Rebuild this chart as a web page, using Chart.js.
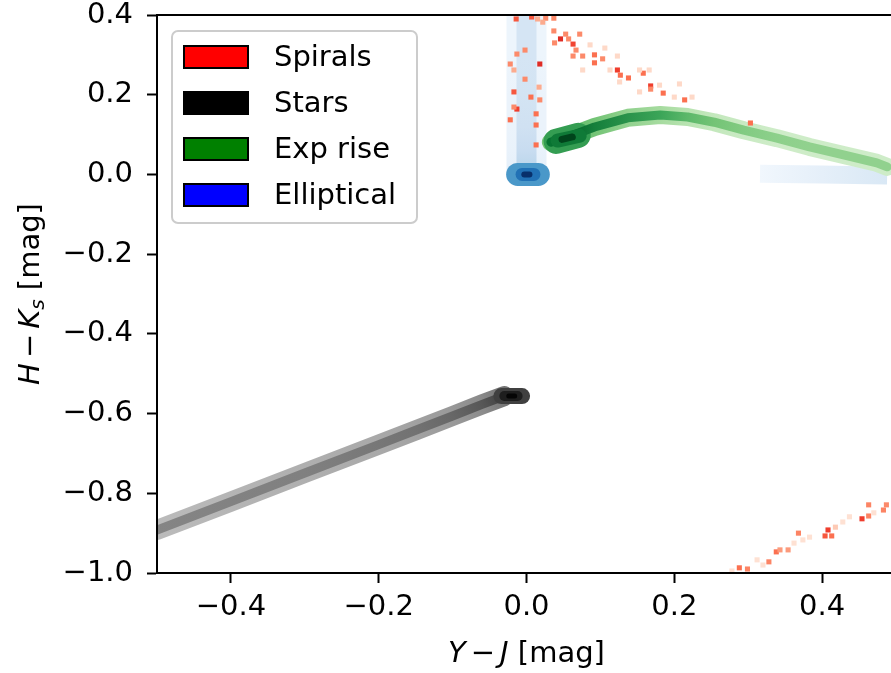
<!DOCTYPE html>
<html>
<head>
<meta charset="utf-8">
<script src="https://cdn.jsdelivr.net/npm/chart.js@4.4.0/dist/chart.umd.min.js"></script>
<style>
  html, body { margin: 0; padding: 0; background: #fff; overflow: hidden; }
</style>
</head>
<body>
<canvas id="graph" width="900" height="673"></canvas>
<script>
// tick values
const xTicks = [-0.4, -0.2, 0.0, 0.2, 0.4];
const yTicks = [-1.0, -0.8, -0.6, -0.4, -0.2, 0.0, 0.2, 0.4];

// Stars: ridge of the 2-D histogram (x, y, density level 0..1)
const starsX = [-0.5, -0.4, -0.3, -0.2, -0.15, -0.1, -0.06, -0.03];
const starsY = [-0.892, -0.821, -0.749, -0.678, -0.642, -0.606, -0.577, -0.556];
const starsEdge = [0.38, 0.4, 0.42, 0.44, 0.46, 0.49, 0.54, 0.62];
const starsCore = [0.56, 0.57, 0.58, 0.61, 0.63, 0.67, 0.73, 0.8];
const starsPeakX = [-0.034, -0.006];
const starsPeakY = [-0.556, -0.556];

// Exp rise
const greenX = [0.033, 0.052, 0.092, 0.137, 0.181, 0.218, 0.254, 0.294, 0.339, 0.383, 0.429, 0.474, 0.488];
const greenY = [0.081, 0.091, 0.119, 0.142, 0.149, 0.144, 0.131, 0.111, 0.091, 0.069, 0.049, 0.029, 0.019];
const greenEdge = [0.5, 0.55, 0.5, 0.42, 0.36, 0.3, 0.26, 0.24, 0.22, 0.22, 0.22, 0.22, 0.22];
const greenCore = [0.85, 0.92, 0.8, 0.72, 0.65, 0.56, 0.5, 0.46, 0.43, 0.42, 0.42, 0.42, 0.42];
const greenPeakX = [0.04, 0.07];
const greenPeakY = [0.083, 0.098];

// Elliptical
const ellX = [0.0, 0.0, 0.0, 0.0, 0.0, 0.0];
const ellY = [0.0, 0.06, 0.12, 0.2, 0.3, 0.4];
const ellEdge = [0.09, 0.07, 0.06, 0.06, 0.05, 0.05];
const ellCore = [0.3, 0.24, 0.2, 0.18, 0.17, 0.17];
const ellPeakX = [-0.012, 0.016];
const ellPeakY = [0.0, 0.0];
const ellTailX = [0.316, 0.4, 0.488];
const ellTailY = [0.002, 0.0, -0.003];
const ellTailLevel = [0.03, 0.09, 0.15];

// Spirals: sparse cells
const spiralsX = [-0.014, 0.007, 0.026, 0.037, 0.015, 0.022, 0.037, 0.046, 0.057, 0.053, 0.072, 0.038, 0.063, 0.067,
  0.063, 0.076, 0.092, 0.092, 0.103, 0.123, 0.127, 0.138, 0.158, 0.168, 0.168, 0.185, 0.214, 0.303,
  0.018, -0.002, -0.013, -0.022, -0.017, -0.002, 0.017, -0.017, 0.006, -0.013, 0.013, -0.022, 0.013, 0.018, -0.017, 0.013,
  0.086, 0.106, 0.123, 0.126, 0.153, 0.180, 0.200, 0.224, 0.207, 0.166, 0.113, 0.076, 0.153,
  0.288, 0.299, 0.328, 0.338, 0.343, 0.354, 0.368, 0.404, 0.408, 0.413, 0.418, 0.454, 0.463, 0.463, 0.483, 0.487,
  0.312, 0.362, 0.383, 0.437, 0.470, 0.278, 0.320, 0.374, 0.428];
const spiralsY = [0.390, 0.395, 0.392, 0.392, 0.390, 0.382, 0.360, 0.340, 0.340, 0.352, 0.352, 0.330, 0.327, 0.312,
  0.297, 0.297, 0.300, 0.280, 0.290, 0.262, 0.249, 0.242, 0.254, 0.222, 0.214, 0.204, 0.187, 0.129,
  0.277, 0.312, 0.302, 0.277, 0.262, 0.239, 0.219, 0.207, 0.194, 0.164, 0.124, 0.137, 0.074, 0.187, 0.169, 0.152,
  0.325, 0.317, 0.297, 0.232, 0.207, 0.224, 0.194, 0.194, 0.227, 0.262, 0.262, 0.262, 0.262,
  -0.987, -0.990, -0.972, -0.947, -0.942, -0.942, -0.900, -0.907, -0.892, -0.907, -0.885, -0.864, -0.829, -0.857, -0.842, -0.829,
  -0.967, -0.925, -0.910, -0.859, -0.849, -0.995, -0.980, -0.917, -0.872];
const spiralsLevel = [0.55, 0.55, 0.4, 0.4, 0.3, 0.3, 0.4, 0.68, 0.4, 0.4, 0.4, 0.4, 0.6, 0.4,
  0.4, 0.4, 0.48, 0.48, 0.4, 0.62, 0.48, 0.48, 0.48, 0.62, 0.4, 0.48, 0.48, 0.48,
  0.68, 0.4, 0.4, 0.4, 0.3, 0.4, 0.3, 0.55, 0.48, 0.62, 0.48, 0.48, 0.48, 0.4, 0.4, 0.48,
  0.15, 0.15, 0.15, 0.15, 0.15, 0.15, 0.15, 0.15, 0.15, 0.15, 0.15, 0.15, 0.15,
  0.48, 0.42, 0.42, 0.48, 0.35, 0.35, 0.42, 0.55, 0.62, 0.48, 0.2, 0.62, 0.42, 0.42, 0.42, 0.4,
  0.12, 0.12, 0.12, 0.12, 0.12, 0.12, 0.12, 0.12, 0.12];

const legendLabels = ['Spirals', 'Stars', 'Exp rise', 'Elliptical'];
const legendColors = ['#ff0000', '#000000', '#008000', '#0000ff'];

// sequential colour maps
const CMAPS = {
  Reds: ['#fff5f0', '#fee0d2', '#fcbba1', '#fc9272', '#fb6a4a', '#ef3b2c', '#cb181d', '#a50f15', '#67000d'],
  Greys: ['#ffffff', '#f0f0f0', '#d9d9d9', '#bdbdbd', '#969696', '#737373', '#525252', '#252525', '#000000'],
  Greens: ['#f7fcf5', '#e5f5e0', '#c7e9c0', '#a1d99b', '#74c476', '#41ab5d', '#238b45', '#006d2c', '#00441b'],
  Blues: ['#f7fbff', '#deebf7', '#c6dbef', '#9ecae1', '#6baed6', '#4292c6', '#2171b5', '#08519c', '#08306b']
};
function cmap(name, t) {
  const c = CMAPS[name];
  t = Math.max(0, Math.min(1, t)) * (c.length - 1);
  const i = Math.min(Math.floor(t), c.length - 2), f = t - i;
  const a = parseInt(c[i].slice(1), 16), b = parseInt(c[i + 1].slice(1), 16);
  const mix = s => Math.round(((a >> s) & 255) * (1 - f) + ((b >> s) & 255) * f);
  return 'rgb(' + mix(16) + ',' + mix(8) + ',' + mix(0) + ')';
}

const pts = (xs, ys) => xs.map((x, i) => ({ x: x, y: ys[i] }));

// colour gradient running along a ridge, one stop per data point
function along(chart, xs, ys, levels, map) {
  if (!chart.chartArea) return cmap(map, levels[0]);
  const sx = chart.scales.x, sy = chart.scales.y;
  const px = xs.map(v => sx.getPixelForValue(v)), py = ys.map(v => sy.getPixelForValue(v));
  const n = px.length - 1;
  const dx = px[n] - px[0], dy = py[n] - py[0], len2 = dx * dx + dy * dy;
  const g = chart.ctx.createLinearGradient(px[0], py[0], px[n], py[n]);
  px.forEach((p, i) => {
    const t = ((p - px[0]) * dx + (py[i] - py[0]) * dy) / len2;
    g.addColorStop(Math.max(0, Math.min(1, t)), cmap(map, levels[i]));
  });
  return g;
}

function ridge(xs, ys, levels, map, width, order, cap) {
  return {
    type: 'line',
    data: pts(xs, ys),
    showLine: true,
    pointRadius: 0,
    borderWidth: width,
    borderColor: c => along(c.chart, xs, ys, levels, map),
    borderCapStyle: cap || 'round',
    borderJoinStyle: 'round',
    clip: 0,
    order: order
  };
}

function peak(xs, ys, color, width, order) {
  return {
    type: 'line', data: pts(xs, ys), showLine: true, pointRadius: 0,
    borderWidth: width, borderColor: color, borderCapStyle: 'round', clip: 0, order: order
  };
}

const fmt = v => (v < 0 ? '\u2212' : '') + Math.abs(v).toFixed(1);
const tickFont = { family: 'DejaVu Sans', size: 29 };

function rich(ctx, parts, cx, y) {
  const f = p => (p.it ? 'italic ' : '') + (p.size || 29) + 'px "DejaVu Sans"';
  let total = 0;
  parts.forEach(p => { ctx.font = f(p); p.w = ctx.measureText(p.t).width; total += p.w + (p.gap || 0); });
  let x = cx - total / 2;
  ctx.fillStyle = '#000';
  parts.forEach(p => { ctx.font = f(p); ctx.fillText(p.t, x, y + (p.dy || 0)); x += p.w + (p.gap || 0); });
}

const decor = {
  id: 'decor',
  afterDraw(chart) {
    const ctx = chart.ctx, a = chart.chartArea;
    ctx.save();
    ctx.strokeStyle = '#000';
    ctx.lineWidth = 2;
    ctx.beginPath();
    ctx.moveTo(a.left - 1, a.top);
    ctx.lineTo(a.right + 1, a.top);
    ctx.stroke();

    // legend
    ctx.fillStyle = 'rgba(255,255,255,0.8)';
    ctx.strokeStyle = '#cccccc';
    ctx.lineWidth = 2;
    ctx.beginPath();
    ctx.roundRect(172, 31, 245, 192, 6);
    ctx.fill();
    ctx.stroke();
    ctx.font = '29px "DejaVu Sans"';
    ctx.textBaseline = 'middle';
    legendLabels.forEach((lab, i) => {
      const cy = 57 + i * 46;
      ctx.fillStyle = legendColors[i];
      ctx.fillRect(184, cy - 11, 64, 22);
      ctx.strokeStyle = '#000';
      ctx.strokeRect(184, cy - 11, 64, 22);
      ctx.fillStyle = '#000';
      ctx.fillText(lab, 274, cy + 1);
    });

    // axis titles
    ctx.textBaseline = 'alphabetic';
    rich(ctx, [{ t: 'Y', it: 1, gap: 5 }, { t: '\u2212', gap: 5 }, { t: 'J', it: 1 }, { t: ' [mag]' }],
      (a.left + a.right) / 2, 662);
    ctx.translate(39, (a.top + a.bottom) / 2);
    ctx.rotate(-Math.PI / 2);
    rich(ctx, [{ t: 'H', it: 1, gap: 5 }, { t: '\u2212', gap: 5 }, { t: 'K', it: 1 },
      { t: 's', it: 1, size: 20, dy: 5 }, { t: ' [mag]' }], 0, 0);
    ctx.restore();
  }
};

const chart = new Chart(document.getElementById('graph'), {
  type: 'scatter',
  data: {
    datasets: [
      {
        type: 'scatter',
        data: pts(spiralsX, spiralsY),
        pointStyle: 'rect',
        pointRadius: 3.6,
        pointBorderWidth: 0,
        pointBackgroundColor: spiralsLevel.map(l => cmap('Reds', l)),
        clip: 0,
        order: 1
      },
      peak([-0.024, -0.016], [-0.556, -0.556], '#050505', 5, 2),
      peak([-0.03, -0.012], [-0.556, -0.556], cmap('Greys', 0.9), 10, 3),
      peak(starsPeakX, starsPeakY, cmap('Greys', 0.8), 16, 4),
      ridge(starsX, starsY, starsCore, 'Greys', 9, 5),
      ridge(starsX, starsY, starsEdge, 'Greys', 20, 6),
      peak([0.048, 0.062], [0.088, 0.094], cmap('Greens', 1.0), 7, 7),
      peak([0.042, 0.072], [0.085, 0.097], cmap('Greens', 0.82), 14, 8),
      peak(greenPeakX, greenPeakY, cmap('Greens', 0.68), 25, 10),
      ridge(greenX, greenY, greenCore, 'Greens', 9, 9),
      ridge(greenX, greenY, greenEdge, 'Greens', 18, 11),
      peak([-0.003, 0.004], [0.0, 0.0], cmap('Blues', 1.0), 6, 12),
      peak([-0.006, 0.01], ellPeakY, cmap('Blues', 0.75), 13, 13),
      peak(ellPeakX, ellPeakY, cmap('Blues', 0.6), 23, 14),
      ridge(ellX, ellY, ellCore, 'Blues', 20, 15, 'butt'),
      ridge(ellX, ellY, ellEdge, 'Blues', 40, 16, 'butt'),
      ridge(ellTailX, ellTailY, ellTailLevel, 'Blues', 18, 17, 'butt')
    ]
  },
  options: {
    responsive: false,
    animation: false,
    devicePixelRatio: 1,
    layout: { padding: { top: 15, right: 1, left: 0, bottom: 0 } },
    plugins: { legend: { display: false }, tooltip: { enabled: false } },
    scales: {
      x: {
        type: 'linear', min: -0.5, max: 0.5,
        afterBuildTicks: s => { s.ticks = xTicks.map(v => ({ value: v })); },
        afterFit: s => { s.height = 100; s.paddingLeft = 0; s.paddingRight = 0; },
        ticks: { callback: fmt, color: '#000', font: tickFont, padding: 7, maxRotation: 0, autoSkip: false },
        grid: { drawOnChartArea: false, tickLength: 10, tickWidth: 2, tickColor: '#000' },
        border: { color: '#000', width: 2, z: 1 }
      },
      y: {
        type: 'linear', min: -1.0, max: 0.4,
        afterBuildTicks: s => { s.ticks = yTicks.map(v => ({ value: v })); },
        afterFit: s => { s.width = 157; s.paddingTop = 0; s.paddingBottom = 0; },
        ticks: { callback: fmt, color: '#000', font: tickFont, padding: 14, autoSkip: false },
        grid: { drawOnChartArea: false, tickLength: 10, tickWidth: 2, tickColor: '#000' },
        border: { color: '#000', width: 2, z: 1 }
      }
    }
  },
  plugins: [decor]
});
</script>
</body>
</html>
